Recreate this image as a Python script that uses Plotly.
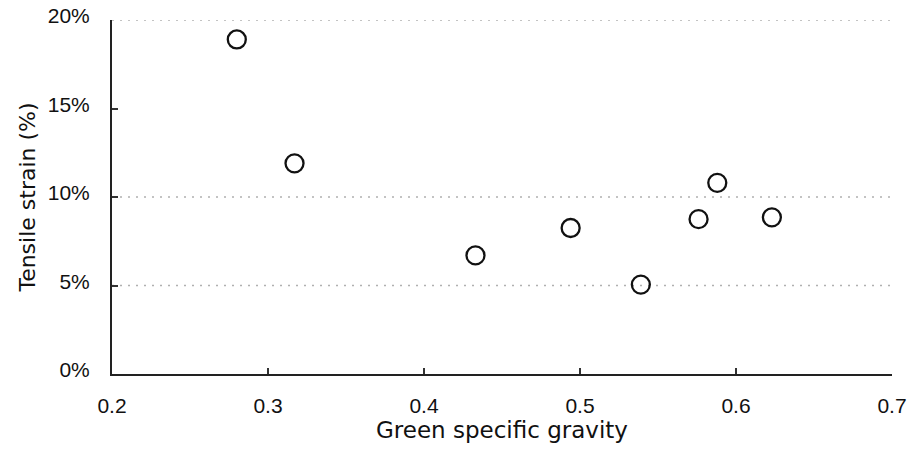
import plotly.graph_objects as go

# Data
green_sg = [0.280, 0.317, 0.433, 0.494, 0.539, 0.576, 0.588, 0.623]
tensile_strain = [18.9, 11.9, 6.7, 8.25, 5.05, 8.75, 10.8, 8.85]

x_range = [0.2, 0.7]
y_range = [0, 20]
x_ticks = [0.2, 0.3, 0.4, 0.5, 0.6, 0.7]
x_tick_text = ["0.2", "0.3", "0.4", "0.5", "0.6", "0.7"]
y_ticks = [0, 5, 10, 15, 20]
y_tick_text = ["0%", "5%", "10%", "15%", "20%"]
grid_levels = [5, 10, 20]

fig = go.Figure()

# faint dotted reference lines (scanned grid remnants)
for lvl in grid_levels:
    fig.add_trace(go.Scatter(
        x=x_range, y=[lvl, lvl], mode="lines",
        line=dict(color="#b0b0b0", width=1.6, dash="2px,6px"),
        hoverinfo="skip", showlegend=False, cliponaxis=False,
    ))

fig.add_trace(go.Scatter(
    x=green_sg, y=tensile_strain, mode="markers",
    marker=dict(symbol="circle-open", size=18, color="#111111",
                line=dict(width=2.3, color="#111111")),
    showlegend=False, cliponaxis=False,
))

fig.update_layout(
    width=913, height=452,
    margin=dict(l=112, r=21, t=20, b=78),
    paper_bgcolor="white", plot_bgcolor="white",
    font=dict(family="Liberation Sans, Arial, sans-serif", color="#111111", size=21),
    showlegend=False,
)

fig.update_xaxes(
    range=x_range, tickvals=x_ticks, ticktext=x_tick_text,
    showgrid=False, zeroline=False, automargin=False,
    showline=True, linecolor="#222222", linewidth=2,
    ticks="inside", ticklen=6, tickwidth=1.5, tickcolor="#333333",
    tickfont=dict(size=21), ticklabelstandoff=12,
    title=dict(text="Green specific gravity",
               font=dict(family="DejaVu Sans, sans-serif", size=23, color="#111111"),
               standoff=2),
)
fig.update_yaxes(
    range=y_range, tickvals=y_ticks, ticktext=y_tick_text,
    showgrid=False, zeroline=False, automargin=False,
    showline=True, linecolor="#222222", linewidth=2,
    ticks="inside", ticklen=6, tickwidth=1.5, tickcolor="#333333",
    tickfont=dict(size=21), ticklabelstandoff=16, ticklabelshift=-4,
    title=dict(text="Tensile strain (%)",
               font=dict(family="DejaVu Sans, sans-serif", size=22, color="#111111"),
               standoff=6),
)

fig.write_html("out.html")
